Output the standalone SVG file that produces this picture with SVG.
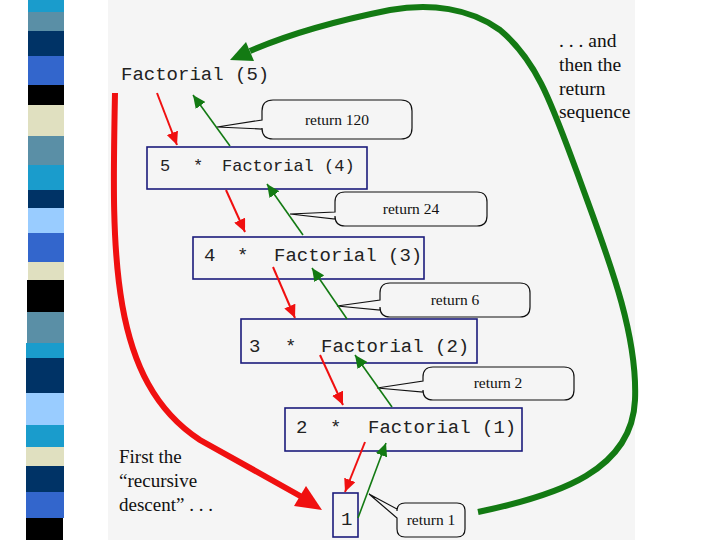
<svg xmlns="http://www.w3.org/2000/svg" width="720" height="540" viewBox="0 0 720 540">
<style>
.mono{font-family:"Liberation Mono","Courier New",monospace;fill:#222}
.serif{font-family:"Liberation Serif","Times New Roman",serif;fill:#111}
.box{fill:none;stroke:#1c1c7c;stroke-width:1.6}
.call{fill:#f5f5f5;stroke:#111;stroke-width:1.2}
.red{fill:none;stroke:#f01010;stroke-width:2}
.green{fill:none;stroke:#137a13;stroke-width:1.6}
</style>
<defs>
<marker id="rh" markerUnits="userSpaceOnUse" markerWidth="14" markerHeight="12" refX="13" refY="6" orient="auto"><path d="M0,0 L13,6 L0,12 Z" fill="#f01010"/></marker>
<marker id="gh" markerUnits="userSpaceOnUse" markerWidth="14" markerHeight="12" refX="13" refY="6" orient="auto"><path d="M0,0 L13,6 L0,12 Z" fill="#137a13"/></marker>
</defs>
<rect x="0" y="0" width="720" height="540" fill="#ffffff"/>
<rect x="108" y="0" width="527" height="540" fill="#f5f5f5"/>
<g id="stripe">
<rect x="28" y="0" width="36" height="12" fill="#1a9ccc"/>
<rect x="28" y="12" width="36" height="19" fill="#5a8fa6"/>
<rect x="28" y="31" width="36" height="25" fill="#003366"/>
<rect x="28" y="56" width="36" height="29" fill="#3366cc"/>
<rect x="28" y="85" width="36" height="20" fill="#000000"/>
<rect x="28" y="105" width="36" height="31" fill="#e0e0c0"/>
<rect x="28" y="136" width="36" height="29" fill="#5a8fa6"/>
<rect x="28" y="165" width="36" height="25" fill="#1a9ccc"/>
<rect x="28" y="190" width="36" height="18" fill="#003366"/>
<rect x="28" y="208" width="36" height="25" fill="#99ccff"/>
<rect x="28" y="233" width="36" height="29" fill="#3366cc"/>
<rect x="28" y="262" width="36" height="18" fill="#e0e0c0"/>
<rect x="27" y="280" width="37" height="32" fill="#000000"/>
<rect x="27" y="312" width="37" height="31" fill="#5a8fa6"/>
<rect x="26" y="343" width="38" height="15" fill="#1a9ccc"/>
<rect x="26" y="358" width="38" height="35" fill="#003366"/>
<rect x="26" y="393" width="38" height="32" fill="#99ccff"/>
<rect x="26" y="425" width="38" height="22" fill="#1a9ccc"/>
<rect x="26" y="447" width="38" height="19" fill="#e0e0c0"/>
<rect x="26" y="466" width="38" height="26" fill="#003366"/>
<rect x="26" y="492" width="38" height="26" fill="#3366cc"/>
<rect x="26" y="518" width="37" height="22" fill="#000000"/>
</g>
<g id="f5"><text class="mono" x="121" y="80" font-size="19">Factorial (5)</text></g>
<g id="f4"><rect class="box" x="147" y="147" width="220" height="42"/>
<text class="mono" y="171" font-size="17"><tspan x="160">5</tspan><tspan x="193">*</tspan><tspan x="222">Factorial (4)</tspan></text></g>
<g id="f3"><rect class="box" x="193" y="237" width="231" height="42"/>
<text class="mono" y="261" font-size="19"><tspan x="204">4</tspan><tspan x="237">*</tspan><tspan x="274">Factorial (3)</tspan></text></g>
<g id="f2"><rect class="box" x="241" y="319" width="236" height="44"/>
<text class="mono" y="352" font-size="19"><tspan x="249">3</tspan><tspan x="285">*</tspan><tspan x="321">Factorial (2)</tspan></text></g>
<g id="f1"><rect class="box" x="285" y="408" width="237" height="43"/>
<text class="mono" y="433" font-size="19"><tspan x="296">2</tspan><tspan x="330">*</tspan><tspan x="368">Factorial (1)</tspan></text></g>
<g id="one"><rect class="box" x="333" y="493" width="25" height="44"/>
<text class="mono" x="341" y="525" font-size="19">1</text></g>
<g id="c120"><path class="call" d="M273,100 H401 Q412,100 412,111 V128 Q412,139 401,139 H273 Q262,139 262,128 V129 L217,127 L262,120 V111 Q262,100 273,100 Z"/>
<text class="serif" x="337" y="125" font-size="15.5" text-anchor="middle">return 120</text></g>
<g id="c24"><path class="call" d="M345,192 H477 Q487,192 487,202 V216 Q487,226 477,226 H345 Q335,226 335,216 V219 L290,214 L335,212 V202 Q335,192 345,192 Z"/>
<text class="serif" x="411" y="214" font-size="15.5" text-anchor="middle">return 24</text></g>
<g id="c6"><path class="call" d="M390,283 H520 Q530,283 530,293 V307 Q530,317 520,317 H390 Q380,317 380,307 V310 L337,306 L380,300 V293 Q380,283 390,283 Z"/>
<text class="serif" x="455" y="305" font-size="15.5" text-anchor="middle">return 6</text></g>
<g id="c2"><path class="call" d="M433,367 H564 Q574,367 574,377 V390 Q574,400 564,400 H433 Q423,400 423,390 V392 L377,388 L423,381 V377 Q423,367 433,367 Z"/>
<text class="serif" x="498" y="388" font-size="15.5" text-anchor="middle">return 2</text></g>
<g id="c1"><path class="call" d="M405,503 H457 Q465,503 465,511 V529 Q465,537 457,537 H405 Q397,537 397,529 V518 L369,494 L397,509 V511 Q397,503 405,503 Z"/>
<text class="serif" x="431" y="525" font-size="15.5" text-anchor="middle">return 1</text></g>
<g id="labels">
<text class="serif" font-size="19"><tspan x="119" y="463">First the</tspan><tspan x="119" y="487">“recursive</tspan><tspan x="119" y="511">descent” . . .</tspan></text>
<text class="serif" font-size="19.5"><tspan x="559" y="47">. . . and</tspan><tspan x="559" y="71">then the</tspan><tspan x="559" y="95">return</tspan><tspan x="559" y="118">sequence</tspan></text>
</g>
<g id="connectors">
<path class="red" stroke-width="2.4" d="M157,93 L177,145" marker-end="url(#rh)"/>
<path class="red" stroke-width="2.4" d="M226,190 L245,232" marker-end="url(#rh)"/>
<path class="red" stroke-width="2.2" d="M273,267 L295,318" marker-end="url(#rh)"/>
<path class="red" stroke-width="1.4" d="M320,355 L343,405" marker-end="url(#rh)"/>
<path class="red" stroke-width="2" d="M365,442 L345,492" marker-end="url(#rh)"/>
<path class="green" d="M230,146 L193,95" marker-end="url(#gh)"/>
<path class="green" d="M303,235 L267,184" marker-end="url(#gh)"/>
<path class="green" d="M347,319 L312,268" marker-end="url(#gh)"/>
<path class="green" d="M392,407 L355,355" marker-end="url(#gh)"/>
<path class="green" stroke-width="2.4" d="M358,518 L386,443" marker-end="url(#gh)"/>
<path fill="none" stroke="#f01010" stroke-width="6" d="M115,93 C112,250 108,380 200,440 L302,497"/>
<polygon fill="#f01010" points="322,510 294,506 306,486"/>
<path fill="none" stroke="#137a13" stroke-width="6" d="M478,512 C560,495 632,470 635,400 C638,330 605,250 578,175 C552,105 538,62 500,30 C470,8 430,3 390,10 C330,22 280,38 250,51"/>
<polygon fill="#137a13" points="230,60 246,42 254,61"/>
</g>
</svg>
